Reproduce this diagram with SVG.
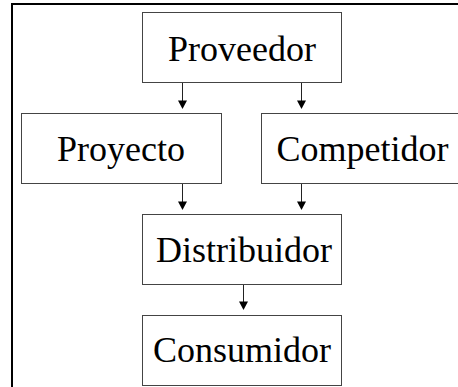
<svg xmlns="http://www.w3.org/2000/svg" width="458" height="387" viewBox="0 0 458 387">
<defs>
<style>
.box{fill:#fff;stroke:#444;stroke-width:1}
.lbl{font-family:"Liberation Serif","Times New Roman",serif;font-size:36px;fill:#000;text-anchor:middle}
.conn line{stroke:#222;stroke-width:1}
.conn polygon{fill:#000}
</style>
</defs>
<rect width="458" height="387" fill="#fff"/>
<rect x="12" y="4" width="470" height="400" fill="none" stroke="#000" stroke-width="2"/>
<g id="proveedor"><rect class="box" x="142.5" y="12.5" width="199" height="70"/><text class="lbl" x="242" y="61">Proveedor</text></g>
<g id="proyecto"><rect class="box" x="21.5" y="113.5" width="200" height="70"/><text class="lbl" x="121" y="161">Proyecto</text></g>
<g id="competidor"><rect class="box" x="261.5" y="113.5" width="202" height="70"/><text class="lbl" x="362.5" y="161">Competidor</text></g>
<g id="distribuidor"><rect class="box" x="142.5" y="214.5" width="199" height="70"/><text class="lbl" x="244" y="262">Distribuidor</text></g>
<g id="consumidor"><rect class="box" x="142.5" y="315.5" width="199" height="70"/><text class="lbl" x="242" y="362">Consumidor</text></g>
<g id="connectors" class="conn">
<line x1="182.5" y1="83" x2="182.5" y2="101"/><polygon points="178,100.5 187,100.5 182.5,109"/>
<line x1="301.5" y1="83" x2="301.5" y2="101"/><polygon points="297,100.5 306,100.5 301.5,109"/>
<line x1="182.5" y1="184" x2="182.5" y2="202"/><polygon points="178,201.5 187,201.5 182.5,210"/>
<line x1="301.5" y1="184" x2="301.5" y2="202"/><polygon points="297,201.5 306,201.5 301.5,210"/>
<line x1="243.5" y1="285" x2="243.5" y2="302"/><polygon points="239,301.5 248,301.5 243.5,310"/>
</g>
</svg>
